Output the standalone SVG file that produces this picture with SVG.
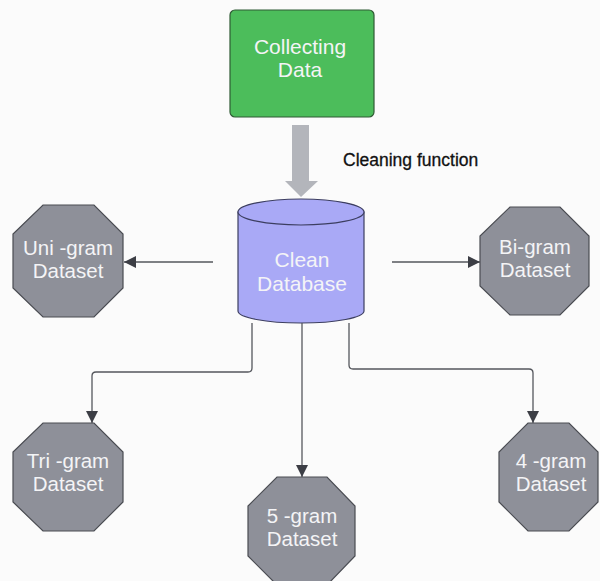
<svg xmlns="http://www.w3.org/2000/svg" width="600" height="581" viewBox="0 0 600 581">
<defs>
<style>
.oct{fill:#8e9099;stroke:#4a4c52;stroke-width:1.2}
.lbl{font-family:"Liberation Sans",Arial,sans-serif;font-size:20.5px;fill:#f4f4f6;text-anchor:middle}
.conn{fill:none;stroke:#55575d;stroke-width:1.3}
</style>
<marker id="ah" viewBox="0 0 10 10" refX="10" refY="5" markerWidth="12" markerHeight="12" markerUnits="userSpaceOnUse" orient="auto">
<path d="M0,0 L10,5 L0,10 Z" fill="#3c3e45"/>
</marker>
</defs>
<rect width="600" height="581" fill="#fbfbfb"/>
<g id="collecting">
<rect x="230" y="10" width="144" height="107" rx="5" fill="#4cbd5b" stroke="#2f5a34" stroke-width="1.2"/>
<text class="lbl" x="300" y="54" style="font-size:21px">Collecting</text>
<text class="lbl" x="300" y="77" style="font-size:21px">Data</text>
</g>
<g id="cleaning-arrow">
<path d="M292,125 H309 V181 H318 L301,197 L285,181 H292 Z" fill="#b3b5bb"/>
<text x="343" y="166" font-family="'Liberation Sans',Arial,sans-serif" font-size="17.5" fill="#111" stroke="#111" stroke-width="0.3">Cleaning function</text>
</g>
<g id="clean-db">
<path d="M238,212 V311 A63,12 0 0 0 364,311 V212 Z" fill="#a9a9f6" stroke="#3c3e60" stroke-width="1.2"/>
<ellipse cx="301" cy="212" rx="63" ry="13" fill="#a9a9f6" stroke="#3c3e60" stroke-width="1.2"/>
<text class="lbl" x="302" y="267" style="font-size:21px">Clean</text>
<text class="lbl" x="302" y="291" style="font-size:21px">Database</text>
</g>
<g id="connectors">
<line class="conn" x1="213" y1="262" x2="124" y2="262" marker-end="url(#ah)"/>
<line class="conn" x1="392" y1="262" x2="480" y2="262" marker-end="url(#ah)"/>
<path class="conn" d="M252,323 V368 Q252,372 248,372 H96 Q92,372 92,376 V423" marker-end="url(#ah)"/>
<line class="conn" x1="302" y1="323" x2="302" y2="477" marker-end="url(#ah)"/>
<path class="conn" d="M349,323 V365 Q349,369 353,369 H529 Q533,369 533,373 V423" marker-end="url(#ah)"/>
</g>
<g id="unigram">
<polygon class="oct" points="43,205 94,205 123,234 123,288 94,317 43,317 13,288 13,234"/>
<text class="lbl" x="68" y="255">Uni -gram</text>
<text class="lbl" x="68" y="278">Dataset</text>
</g>
<g id="bigram">
<polygon class="oct" points="510,207 560,207 589,236 589,286 560,315 510,315 480,286 480,236"/>
<text class="lbl" x="535" y="254">Bi-gram</text>
<text class="lbl" x="535" y="277">Dataset</text>
</g>
<g id="trigram">
<polygon class="oct" points="43,423 94,423 123,452 123,502 94,531 43,531 13,502 13,452"/>
<text class="lbl" x="68" y="468">Tri -gram</text>
<text class="lbl" x="68" y="491">Dataset</text>
</g>
<g id="fivegram">
<polygon class="oct" points="277,477 327,477 355,506 355,556 327,585 277,585 248,556 248,506"/>
<text class="lbl" x="302" y="523">5 -gram</text>
<text class="lbl" x="302" y="546">Dataset</text>
</g>
<g id="fourgram">
<polygon class="oct" points="528,423 569,423 598,452 598,502 569,531 528,531 499,502 499,452"/>
<text class="lbl" x="551" y="468">4 -gram</text>
<text class="lbl" x="551" y="491">Dataset</text>
</g>
</svg>
